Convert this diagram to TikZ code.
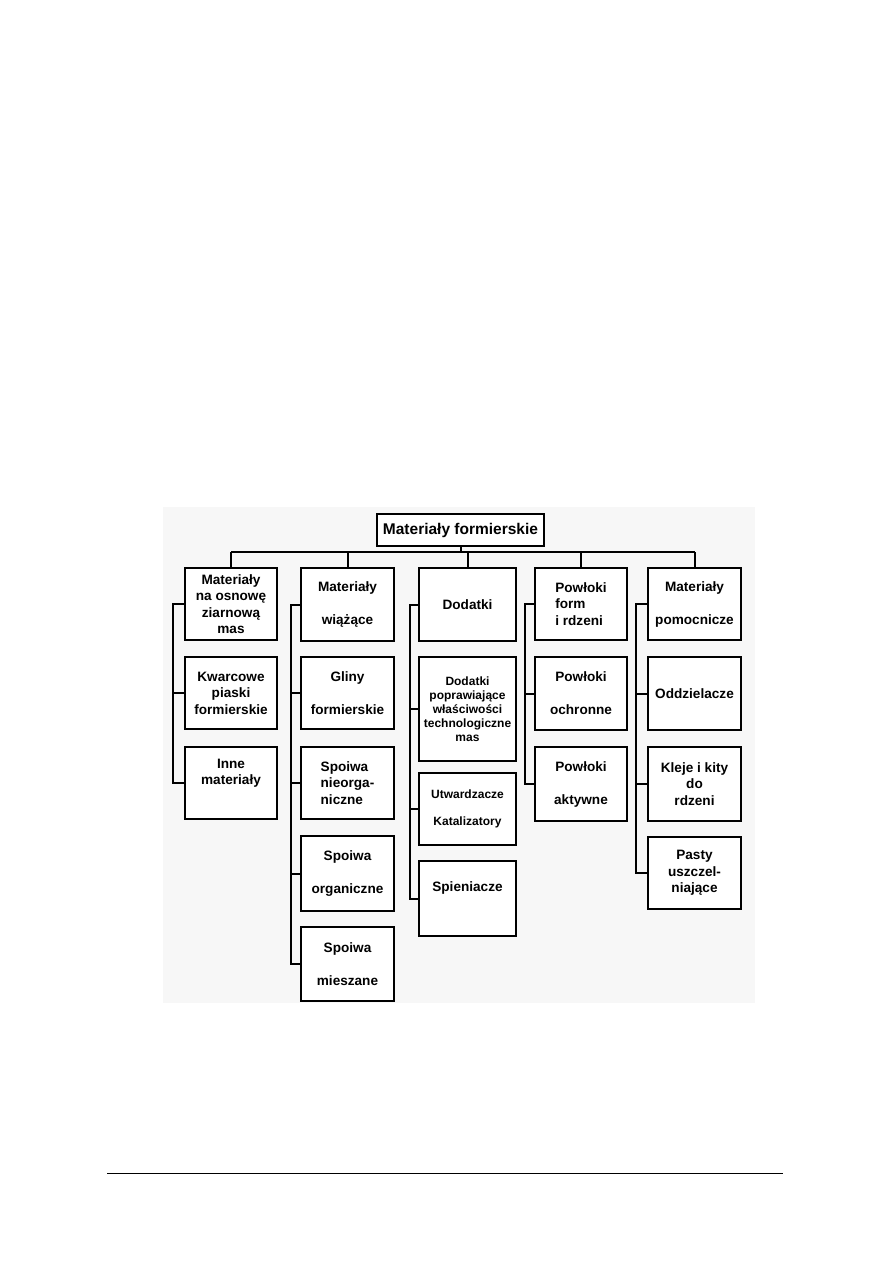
\documentclass[tikz,border=0pt]{standalone}
\usepackage{fontspec}
\setmainfont{Liberation Sans}
\usepackage{tikz}
\usetikzlibrary{positioning}
\definecolor{pagebg}{HTML}{F7F7F7}
\newcommand{\boxfont}{\fontsize{13.6}{16.5}\selectfont\bfseries}
\newcommand{\smallboxfont}{\fontsize{12}{14}\selectfont\bfseries}
\newcommand{\blankline}{\\[16.5pt]}

\begin{document}
\begin{tikzpicture}[x=1pt,y=-1pt,
  node distance=17pt,
  box/.style={draw,fill=white,line width=2pt,align=center,inner sep=0pt,outer sep=0pt,
    minimum width=92pt,minimum height=72pt,font=\boxfont},
  link/.style={line width=2pt}]
\useasboundingbox (0,0) rectangle (893,1263);
\fill[pagebg] (163,507) rectangle (755,1003);

\node[box,minimum width=167pt,minimum height=32pt,
  font=\fontsize{15.5}{18}\selectfont\bfseries] (root) at (460.5,530) {Materiały formierskie};

% kolumna 1
\node[box] (c1a) at (231,604) {Materiały\\na osnowę\\ziarnową\\mas};
\node[box,below=17pt of c1a] (c1b) {Kwarcowe\\piaski\\formierskie};
\node[box,below=18pt of c1b] (c1c) {Inne\\materiały\\[6pt]};

% kolumna 2
\node[box,minimum width=93pt,minimum height=73pt] (c2a) at (347.5,604.5) {Materiały\blankline wiążące};
\node[box,minimum width=93pt,below=16pt of c2a] (c2b) {Gliny\blankline formierskie};
\node[box,minimum width=93pt,align=left,below=18pt of c2b] (c2c) {Spoiwa\\nieorga-\\niczne};
\node[box,minimum width=93pt,minimum height=75pt,below=17pt of c2c] (c2d) {Spoiwa\blankline organiczne};
\node[box,minimum width=93pt,minimum height=74pt,below=16pt of c2d] (c2e) {Spoiwa\blankline mieszane};

% kolumna 3
\node[box,minimum width=97pt,minimum height=73pt] (c3a) at (467.5,604.5) {Dodatki};
\node[box,minimum width=97pt,minimum height=104pt,font=\smallboxfont,below=16pt of c3a] (c3b)
  {Dodatki\\poprawiające\\właściwości\\technologiczne\\mas};
\node[box,minimum width=97pt,font=\smallboxfont,below=12pt of c3b] (c3c) {Utwardzacze\\[13pt]Katalizatory};
\node[box,minimum width=97pt,minimum height=75pt,below=16pt of c3c] (c3d) {Spieniacze\\[8pt]};

% kolumna 4
\node[box,align=left] (c4a) at (581,604) {Powłoki\\form\\i rdzeni};
\node[box,minimum height=73pt,below=17pt of c4a] (c4b) {Powłoki\blankline ochronne};
\node[box,minimum height=74pt,below=17pt of c4b] (c4c) {Powłoki\blankline aktywne};

% kolumna 5
\node[box,minimum width=93pt] (c5a) at (694.5,604) {Materiały\blankline pomocnicze};
\node[box,minimum width=93pt,minimum height=73pt,below=17pt of c5a] (c5b) {Oddzielacze};
\node[box,minimum width=93pt,minimum height=74pt,below=17pt of c5b] (c5c) {Kleje i kity\\do\\rdzeni};
\node[box,minimum width=93pt,below=16pt of c5c] (c5d) {Pasty\\uszczel-\\niające};

% szyna glowna
\coordinate (bus) at ([yshift=-6pt]root.south);
\draw[link] (root.south) -- (bus);
\draw[link] (bus -| c1a.north) -- (bus -| c5a.north);
\foreach \c in {c1a,c2a,c3a,c4a,c5a}
  \draw[link] (bus -| \c.north) -- (\c.north);

% piony kolumn
\foreach \col/\last/\off in {1/c/12,2/e/10,3/d/9,4/c/10,5/d/12}{
  \coordinate (sp\col) at ([xshift=-\off pt]c\col a.west);
  \draw[link] (c\col a.west) -- (sp\col) |- (c\col\last.west);
}
\draw[link] (c1b.west) -- (sp1 |- c1b.west);
\foreach \n in {b,c,d}
  \draw[link] (c2\n.west) -- (sp2 |- c2\n.west);
\foreach \n in {b,c}
  \draw[link] (c3\n.west) -- (sp3 |- c3\n.west);
\draw[link] (c4b.west) -- (sp4 |- c4b.west);
\foreach \n in {b,c}
  \draw[link] (c5\n.west) -- (sp5 |- c5\n.west);

\draw[line width=0.8pt] (107,1173) -- (783,1173);
\end{tikzpicture}
\end{document}
